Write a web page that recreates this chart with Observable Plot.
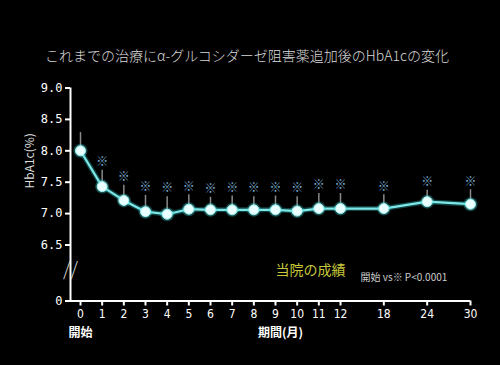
<!DOCTYPE html>
<html><head><meta charset="utf-8">
<script src="https://cdn.jsdelivr.net/npm/d3@7"></script>
<script src="https://cdn.jsdelivr.net/npm/@observablehq/plot@0.6"></script>
<style>
body{margin:0;background:#000;width:500px;height:365px;overflow:hidden;}
#title{height:70px;box-sizing:border-box;padding-top:45px;line-height:20px;text-align:center;color:#d8d8d8;font-family:"Noto Sans CJK JP";font-size:14px;font-weight:300;padding-right:6px;}
</style></head><body>
<div id="title">これまでの治療にα-グルコシダーゼ阻害薬追加後のHbA1cの変化</div>
<div id="chart"></div>
<script>
const months = [0,1,2,3,4,5,6,7,8,9,10,11,12,18,24,30];
const hba1c = [8.00,7.43,7.21,7.03,6.99,7.07,7.06,7.06,7.06,7.06,7.04,7.08,7.08,7.08,7.19,7.15];
const upperSD = [8.29,7.69,7.45,7.29,7.27,7.30,7.26,7.28,7.27,7.28,7.27,7.32,7.32,7.30,7.37,7.38];
const significant = [false,true,true,true,true,true,true,true,true,true,true,true,true,true,true,true];
const yTicks = [0,6.5,7,7.5,8,8.5,9];
const yBreak = 3.6;
const xStart = -0.4615;

const data = months.map((m,i)=>({month:m, value:hba1c[i], upper:upperSD[i], sig:significant[i]}));

const chart = Plot.plot({
  width:500, height:295,
  marginLeft:70, marginRight:30, marginTop:17.5, marginBottom:64.5,
  style:{background:"#000", color:"#fff", overflow:"visible", fontFamily:"Noto Sans CJK JP"},
  x:{type:"linear", domain:[xStart,12,30], range:[70,340,470]},
  y:{type:"linear", domain:[0,6.5,9], range:[230.5,174.5,17.5]},
  marks:[
    Plot.ruleX([xStart], {y1:0, y2:9, stroke:"#fff", strokeWidth:2}),
    Plot.ruleY([0], {x1:xStart, x2:30, stroke:"#fff", strokeWidth:2}),
    Plot.axisX(months, {tickSize:5, tickPadding:3, fontSize:12, strokeWidth:2, stroke:"#fff", fill:"#fff", tickFormat:d=>String(d), label:null, fontFamily:"DejaVu Sans Condensed"}),
    Plot.axisY(yTicks, {tickSize:5, tickPadding:3, fontSize:12, strokeWidth:2, stroke:"#fff", fill:"#fff", tickFormat:d=>d===0?"0":d.toFixed(1), label:null, fontFamily:"DejaVu Sans Mono"}),
    Plot.text([yBreak], {x:xStart, y:d=>d, text:()=>"//", fontSize:19, fontWeight:300, fill:"#ddd"}),
    Plot.ruleX(data, {x:"month", y1:"value", y2:"upper", stroke:"#8a8a8a", strokeWidth:1.5}),
    Plot.line(data, {x:"month", y:"value", stroke:"#2fb8b8", strokeWidth:5, strokeOpacity:0.35}),
    Plot.line(data, {x:"month", y:"value", stroke:"#7ee8e8", strokeWidth:2.2}),
    Plot.dot(data, {x:"month", y:"value", r:7, fill:"#3fd0d0", fillOpacity:0.35}),
    Plot.dot(data, {x:"month", y:"value", r:5, fill:"#eaffff", stroke:"#9ff3f3", strokeWidth:1}),
    Plot.text(data.filter(d=>d.sig), {x:"month", y:"upper", text:()=>"※", dy:-8, fill:"#7aaed0", fontSize:12, fontWeight:"bold"}),
    Plot.text(["HbA1c(%)"], {frameAnchor:"left", dx:-40, dy:-6, rotate:-90, fontSize:12, fill:"#ddd"}),
    Plot.text(["開始"], {x:()=>months[0], frameAnchor:"bottom", dy:36, fontSize:12, fontWeight:"bold", fill:"#fff"}),
    Plot.text(["期間(月)"], {frameAnchor:"bottom", dx:10, dy:36, fontSize:12, fontWeight:"bold", fill:"#fff"}),
    Plot.text(["当院の成績"], {frameAnchor:"bottom-left", dx:240, dy:-26, fontSize:14, fill:"#c8c83c", textAnchor:"middle"}),
    Plot.text(["開始 vs※ P<0.0001"], {frameAnchor:"bottom-left", dx:290, dy:-20, fontSize:10, fill:"#ccc", textAnchor:"start"})
  ]
});
document.getElementById("chart").appendChild(chart);
</script>
</body></html>
